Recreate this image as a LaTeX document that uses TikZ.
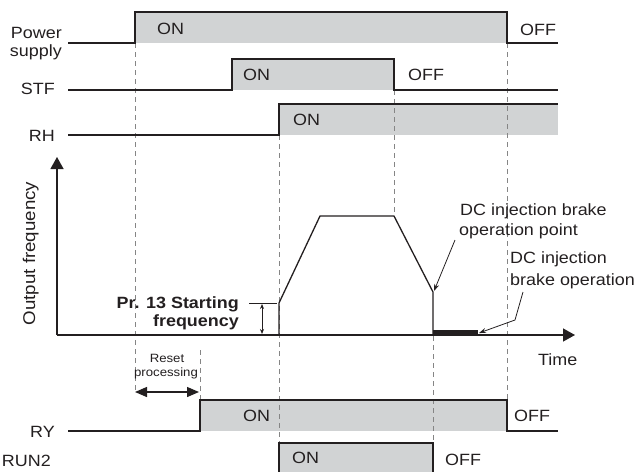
\documentclass[tikz,border=0pt]{standalone}
\usepackage{fontspec}
\setmainfont{Liberation Sans}[FakeStretch=1.1]
\usetikzlibrary{arrows.meta}
\definecolor{sig}{HTML}{231F20}
\definecolor{fillg}{HTML}{D1D3D4}
\definecolor{guidec}{HTML}{858585}
\tikzset{
  sigline/.style={draw=sig, line width=1.3pt, line join=miter},
  onfill/.style={fill=fillg, draw=none},
  guide/.style={draw=guidec, line width=0.9pt, dash pattern=on 5pt off 4pt},
  lbl/.style={font=\fontsize{16.3}{18}\selectfont, inner sep=0pt, text=sig},
  small/.style={font=\fontsize{12}{14}\selectfont, inner sep=0pt, text=sig},
  bold/.style={font=\fontsize{16.3}{18}\selectfont\bfseries, inner sep=0pt, text=sig},
  axis/.style={draw=sig, line width=1.3pt, -{Triangle[length=12pt,width=13pt]}},
  leader/.style={draw=sig, line width=0.8pt, -{Stealth[length=7pt,width=5pt]}},
}
\begin{document}
\begin{tikzpicture}[x=1pt,y=-1pt]
\useasboundingbox (0,0) rectangle (642,471);

% fills
\fill[fillg] (135,12) rectangle (507,43);
\fill[fillg] (232,59) rectangle (394,90);
\fill[fillg] (279,104) rectangle (558,135);
\fill[fillg] (200,400) rectangle (507,431);
\fill[fillg] (279,443) rectangle (433,480);

% guide lines
\draw[guide] (135,43) -- (135,390);
\draw[guide] (200,350) -- (200,400);
\draw[guide] (279,135) -- (279,443);
\draw[guide] (394,90) -- (394,216);
\draw[guide] (433,336) -- (433,443);
\draw[guide] (507,43) -- (507,400);

% signals
\draw[sigline] (68,43) -- (135,43) -- (135,12) -- (507,12) -- (507,43) -- (558,43);
\draw[sigline] (68,90) -- (232,90) -- (232,59) -- (394,59) -- (394,90) -- (558,90);
\draw[sigline] (68,135) -- (279,135) -- (279,104) -- (558,104);
\draw[sigline] (68,431) -- (200,431) -- (200,400) -- (507,400) -- (507,431) -- (558,431);
\draw[sigline] (279,480) -- (279,443) -- (433,443) -- (433,480);

% axes
\coordinate (org) at (57,335);
\coordinate (ytip) at (57,157);
\coordinate (xtip) at (575,335);
\draw[axis] (org) -- (ytip);
\draw[axis] (org) -- (xtip);

% frequency curve
\draw[sigline] (279,335) -- (279,303) -- (320,216) -- (394,216) -- (433,292) -- (433,335);
\fill[sig] (433,330) rectangle (478,336);

% starting frequency marker
\draw[draw=sig, line width=0.8pt] (249,303) -- (277,303);
\draw[draw=sig, line width=0.8pt, {Stealth[length=5pt,width=4pt]}-{Stealth[length=5pt,width=4pt]}] (262,304) -- (262,334);

% reset processing arrow
\draw[draw=sig, line width=1.3pt, {Triangle[length=12pt,width=10pt]}-{Triangle[length=12pt,width=10pt]}] (135,392) -- (199,392);

% leaders
\coordinate (dcp) at (434,291);
\coordinate (dcb) at (479,333);
\draw[leader] (455,240) -- (dcp);
\draw[leader] (523,292) -- (515,320) -- (dcb);

% labels
\node[lbl, anchor=base east] (lpow) at (62,38) {Power};
\node[lbl, anchor=base east] (lsup) at (62,56) {supply};
\node[lbl, anchor=base east] (lstf) at (55,94) {STF};
\node[lbl, anchor=base east] (lrh) at (55,141) {RH};
\node[lbl, anchor=base east] (lry) at (55,437) {RY};
\node[lbl, anchor=base east] (lrun) at (51,466) {RUN2};

\node[lbl, anchor=base west] (on1) at (157,34) {ON};
\node[lbl, anchor=base west] (off1) at (520,35) {OFF};
\node[lbl, anchor=base west] (on2) at (243,80) {ON};
\node[lbl, anchor=base west] (off2) at (408,80) {OFF};
\node[lbl, anchor=base west] (on3) at (293,125) {ON};
\node[lbl, anchor=base west] (on4) at (243,421) {ON};
\node[lbl, anchor=base west] (off4) at (514,421) {OFF};
\node[lbl, anchor=base west] (on5) at (292,463) {ON};
\node[lbl, anchor=base west] (off5) at (445,465) {OFF};

\node[lbl, anchor=base west] (ltime) at (538,365) {Time};
\node[lbl, anchor=base, rotate=90, font=\fontsize{17}{18}\selectfont] (lout) at (35,253.5) {Output frequency};

\node[bold, anchor=base east] (lpr1) at (239,308) {Pr. 13 Starting};
\node[bold, anchor=base east] (lpr2) at (239,326) {frequency};

\node[small, anchor=base] (lres1) at (167,362) {Reset};
\node[small, anchor=base] (lres2) at (166,376) {processing};

\node[lbl, anchor=base west] (ldc1) at (460,215) {DC injection brake};
\node[lbl, anchor=base west] (ldc2) at (459,235) {operation point};
\node[lbl, anchor=base west] (ldc3) at (510,263) {DC injection};
\node[lbl, anchor=base west] (ldc4) at (510,285) {brake operation};
\end{tikzpicture}
\end{document}
